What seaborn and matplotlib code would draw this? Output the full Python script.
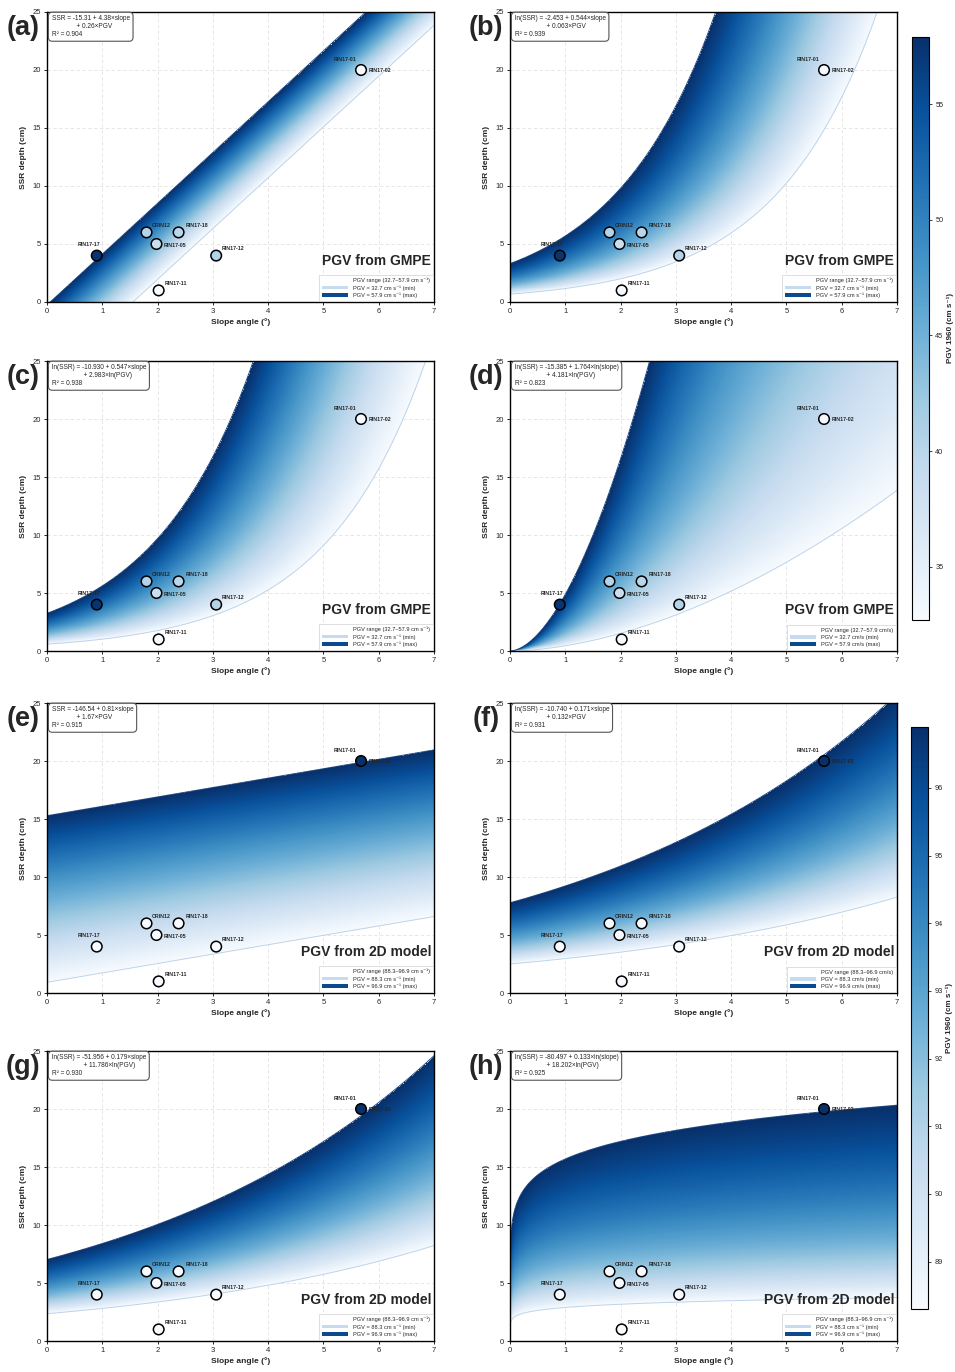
import numpy as np
import pandas as pd
import matplotlib
matplotlib.use("Agg")
import matplotlib.pyplot as plt
import seaborn as sns
from matplotlib.patches import Patch
from matplotlib.colors import Normalize
from matplotlib.cm import ScalarMappable

sns.set_style("white")
plt.rcParams['font.family'] = ['Liberation Sans', 'DejaVu Sans']

# ---------------- data ----------------
site_names = ["RIN17-01", "CRIN12", "RIN17-18", "RIN17-05", "RIN17-17", "RIN17-12", "RIN17-11"]
site_slope = [5.68, 1.80, 2.38, 1.98, 0.90, 3.06, 2.02]
site_ssr = [20.0, 6.0, 6.0, 5.0, 4.0, 4.0, 1.0]
site_pgv_gmpe = [33.0, 40.5, 40.0, 38.5, 57.5, 40.5, 32.9]
site_pgv_2d = [96.9, 88.3, 88.3, 88.3, 88.3, 88.3, 88.3]

pgv_range_gmpe = (32.7, 57.9)
pgv_range_2d = (88.3, 96.9)

# regression forms: (transform of SSR, transform of slope, transform of PGV)
form_a = ("lin", "lin", "lin")
form_b = ("log", "lin", "lin")
form_c = ("log", "lin", "log")
form_d = ("log", "log", "log")

coef_a = [-15.31, 4.38, 0.26]
coef_b = [-2.453, 0.544, 0.063]
coef_c = [-10.930, 0.547, 2.983]
coef_d = [-15.385, 1.764, 4.181]
coef_e = [-146.54, 0.81, 1.67]
coef_f = [-10.740, 0.171, 0.132]
coef_g = [-51.956, 0.179, 11.786]
coef_h = [-80.497, 0.133, 18.202]

eq_a = "SSR = -15.31 + 4.38×slope\n              + 0.26×PGV\nR² = 0.904"
eq_b = "ln(SSR) = -2.453 + 0.544×slope\n                  + 0.063×PGV\nR² = 0.939"
eq_c = "ln(SSR) = -10.930 + 0.547×slope\n                  + 2.983×ln(PGV)\nR² = 0.938"
eq_d = "ln(SSR) = -15.385 + 1.764×ln(slope)\n                  + 4.181×ln(PGV)\nR² = 0.823"
eq_e = "SSR = -146.54 + 0.81×slope\n              + 1.67×PGV\nR² = 0.915"
eq_f = "ln(SSR) = -10.740 + 0.171×slope\n                  + 0.132×PGV\nR² = 0.931"
eq_g = "ln(SSR) = -51.956 + 0.179×slope\n                  + 11.786×ln(PGV)\nR² = 0.930"
eq_h = "ln(SSR) = -80.497 + 0.133×ln(slope)\n                  + 18.202×ln(PGV)\nR² = 0.925"

unit_si = "cm s⁻¹"
unit_slash = "cm/s"

panels = [
    ("(a)", form_a, coef_a, eq_a, "gmpe", unit_si),
    ("(b)", form_b, coef_b, eq_b, "gmpe", unit_si),
    ("(c)", form_c, coef_c, eq_c, "gmpe", unit_si),
    ("(d)", form_d, coef_d, eq_d, "gmpe", unit_slash),
    ("(e)", form_a, coef_e, eq_e, "2d", unit_si),
    ("(f)", form_b, coef_f, eq_f, "2d", unit_slash),
    ("(g)", form_c, coef_g, eq_g, "2d", unit_si),
    ("(h)", form_d, coef_h, eq_h, "2d", unit_si),
]

x_ticks = [0, 1, 2, 3, 4, 5, 6, 7]
y_ticks = [0, 5, 10, 15, 20, 25]
cbar_ticks_gmpe = [35, 40, 45, 50, 55]
cbar_ticks_2d = [89, 90, 91, 92, 93, 94, 95, 96]

# label placement for site names (offset points, alignment)
label_style = {
    "CRIN12": ((10.5, 5.0), "center"),
    "RIN17-18": ((13.0, 5.0), "center"),
    "RIN17-05": ((5.5, -0.8), "left"),
    "RIN17-17": ((-5.5, 8.0), "center"),
    "RIN17-12": ((4.0, 5.0), "left"),
    "RIN17-11": ((4.0, 5.0), "left"),
}

cmap = plt.get_cmap("Blues")
MIN_COLOR = "#c6dbef"
MAX_COLOR = "#0b4a8f"


def fwd(kind, v):
    return np.log(v) if kind == "log" else v


def inv(kind, v):
    return np.exp(v) if kind == "log" else v


def ssr_curve(form, coef, slope, pgv):
    g, f, h = form
    return inv(g, coef[0] + coef[1] * fwd(f, slope) + coef[2] * fwd(h, pgv))


def pgv_field(form, coef, S, D):
    g, f, h = form
    return inv(h, (fwd(g, D) - coef[0] - coef[1] * fwd(f, S)) / coef[2])


W, H = 955, 1372
fig = plt.figure(figsize=(W / 100, H / 100), dpi=100)

col_left = [47, 510]
row_top = [12, 361, 703, 1051]
ax_w, ax_h = 387, 290

s_grid = np.linspace(1e-4, 7, 900)
d_grid = np.linspace(1e-4, 25, 900)
S, D = np.meshgrid(s_grid, d_grid)
s_line = np.linspace(1e-4, 7, 600)

for i, (tag, form, coef, eq, src, unit) in enumerate(panels):
    r, c = divmod(i, 2)
    left = col_left[c]
    top = row_top[r]
    ax = fig.add_axes([left / W, 1 - (top + ax_h) / H, ax_w / W, ax_h / H])
    vmin, vmax = pgv_range_gmpe if src == "gmpe" else pgv_range_2d
    norm = Normalize(vmin, vmax)

    with np.errstate(all="ignore"):
        P = pgv_field(form, coef, S, D)
    P = np.ma.masked_where(~((P >= vmin) & (P <= vmax)), P)
    ax.imshow(P, extent=[0, 7, 0, 25], origin="lower", aspect="auto",
              cmap=cmap, norm=norm, interpolation="nearest", zorder=1)

    curves = pd.DataFrame({
        "slope": np.concatenate([s_line, s_line]),
        "ssr": np.concatenate([ssr_curve(form, coef, s_line, vmin),
                               ssr_curve(form, coef, s_line, vmax)]),
        "level": ["min"] * len(s_line) + ["max"] * len(s_line),
    })
    sns.lineplot(data=curves, x="slope", y="ssr", hue="level",
                 palette={"min": "#bcd3ea", "max": "#1a4580"},
                 linewidth=0.7, legend=False, ax=ax, zorder=2, sort=False,
                 estimator=None)

    pgv_site = site_pgv_gmpe if src == "gmpe" else site_pgv_2d
    sites = pd.DataFrame({"slope": site_slope, "ssr": site_ssr, "pgv": pgv_site})
    sns.scatterplot(data=sites, x="slope", y="ssr", hue="pgv", palette="Blues",
                    hue_norm=norm, s=58, edgecolor="black", linewidth=1.1,
                    legend=False, ax=ax, zorder=5)

    for name, xs, ys in zip(site_names, site_slope, site_ssr):
        if name == "RIN17-01":
            ax.annotate("RIN17-01", (xs, ys), xytext=(-11.5, 7.5), textcoords="offset points",
                        fontsize=3.8, fontweight="bold", ha="center", va="center", zorder=6)
            ax.annotate("RIN17-02", (xs, ys), xytext=(5.5, -0.5), textcoords="offset points",
                        fontsize=3.8, fontweight="bold", ha="left", va="center", zorder=6)
        else:
            off, ha = label_style[name]
            ax.annotate(name, (xs, ys), xytext=off, textcoords="offset points",
                        fontsize=3.8, fontweight="bold", ha=ha, va="center", zorder=6)

    ax.set_xlim(0, 7)
    ax.set_ylim(0, 25)
    ax.set_xticks(x_ticks)
    ax.set_yticks(y_ticks)
    ax.grid(True, linestyle=(0, (4, 3)), color="#e2e2e2", linewidth=0.6, zorder=0)
    ax.set_axisbelow(True)
    ax.tick_params(labelsize=5.5, length=2.5, width=0.7, direction="out",
                   bottom=True, left=True, pad=2)
    for sp in ax.spines.values():
        sp.set_color("black")
        sp.set_linewidth(1.0)
    ax.set_xlabel("Slope angle (°)", fontsize=6, fontweight="bold", labelpad=2)
    ax.set_ylabel("SSR depth (cm)", fontsize=6, fontweight="bold", labelpad=4)

    ax.text(0.012, 0.988, eq, transform=ax.transAxes, va="top", ha="left",
            fontsize=4.7, zorder=7, linespacing=1.15,
            bbox=dict(boxstyle="round,pad=0.5,rounding_size=0.6", fc="white",
                      ec="#555555", lw=0.8))

    title = "PGV from GMPE" if src == "gmpe" else "PGV from 2D model"
    ax.text(0.993, 0.118, title, transform=ax.transAxes, ha="right", va="bottom",
            fontsize=10, fontweight="bold", zorder=7)

    rng_lbl = f"PGV range ({vmin}–{vmax} {unit})"
    handles = [
        Patch(facecolor="white", edgecolor="none", label=rng_lbl),
        Patch(facecolor=MIN_COLOR, edgecolor="none", label=f"PGV = {vmin} {unit} (min)"),
        Patch(facecolor=MAX_COLOR, edgecolor="none", label=f"PGV = {vmax} {unit} (max)"),
    ]
    leg = ax.legend(handles=handles, loc="lower right", fontsize=4.1, frameon=True,
                    framealpha=1, fancybox=False, edgecolor="#d0d0d0",
                    borderpad=0.45, handlelength=4.6, handleheight=0.6,
                    labelspacing=0.4, borderaxespad=0.2, handletextpad=0.9)
    leg.get_frame().set_linewidth(0.5)
    leg.set_zorder(8)

    fig.text((left - 24) / W, 1 - (top + 16) / H, tag, fontsize=19.5, fontweight="bold",
             ha="center", va="center")

# colourbars
for (vmin, vmax), ticks, (cx, cy_top, cy_bot) in [
    (pgv_range_gmpe, cbar_ticks_gmpe, (912, 37, 620)),
    (pgv_range_2d, cbar_ticks_2d, (911, 727, 1309)),
]:
    cax = fig.add_axes([cx / W, 1 - cy_bot / H, 17 / W, (cy_bot - cy_top) / H])
    sm = ScalarMappable(norm=Normalize(vmin, vmax), cmap=cmap)
    cb = fig.colorbar(sm, cax=cax, ticks=ticks)
    cb.outline.set_linewidth(0.8)
    cb.outline.set_edgecolor("black")
    cax.tick_params(labelsize=5.3, length=2.5, width=0.6, pad=2)
    cb.set_label("PGV 1960 (cm s⁻¹)", fontsize=5.8, fontweight="bold", labelpad=2)

fig.savefig("out.png", dpi=100)
